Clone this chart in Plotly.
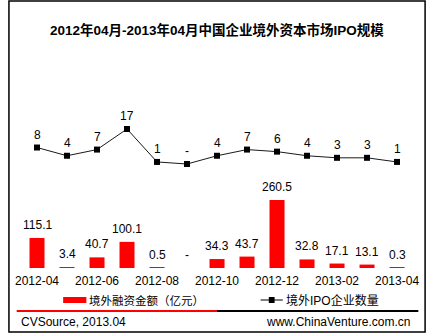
import plotly.graph_objects as go

# ---- data ----
months = ["2012-04", "2012-05", "2012-06", "2012-07", "2012-08", "2012-09", "2012-10",
          "2012-11", "2012-12", "2013-01", "2013-02", "2013-03", "2013-04"]
amount = [115.1, 3.4, 40.7, 100.1, 0.5, 0, 34.3, 43.7, 260.5, 32.8, 17.1, 13.1, 0.3]   # 境外融资金额（亿元）
ipo_count = [8, 4, 7, 17, 1, 0, 4, 7, 6, 4, 3, 3, 1]                                      # 境外IPO企业数量
tick_months = months[::2]

W, H = 435, 335
FONT = "Liberation Sans, Arial, Noto Sans CJK SC, sans-serif"


def px(x):
    return x / W


def py(y):
    return 1 - y / H


# plot area in pixels
X0, X1 = 15.5, 418.5
Y_TOP, Y_BOT = 100, 272
plot_h = Y_BOT - Y_TOP

# bar axis: baseline at y=268, 0.261 px per unit
bar_scale = 0.261
bar_min = -(Y_BOT - 268) / bar_scale
bar_max = bar_min + plot_h / bar_scale

# line axis: zero at y=164, 2.06 px per unit
line_scale = 2.06
line_min = -(Y_BOT - 164) / line_scale
line_max = line_min + plot_h / line_scale


def fmt(v):
    return "-" if v == 0 else (f"{v:g}")


fig = go.Figure()
fig.add_trace(go.Bar(
    x=months, y=amount, width=0.5, marker=dict(color="#ff0000", line=dict(width=0)),
    name="境外融资金额（亿元）", yaxis="y", showlegend=False, hoverinfo="x+y",
))
fig.add_trace(go.Scatter(
    x=months, y=ipo_count, mode="lines+markers", yaxis="y2",
    line=dict(color="#1a1a1a", width=1),
    marker=dict(symbol="square", size=6, color="#000000"),
    name="境外IPO企业数量", showlegend=False, cliponaxis=False,
))

annotations = []
for m, v in zip(months, amount):
    annotations.append(dict(x=m, y=v, xref="x", yref="y", text=fmt(v), showarrow=False,
                            yshift=13, font=dict(family=FONT, size=12, color="#000")))
for m, v in zip(months, ipo_count):
    annotations.append(dict(x=m, y=v, xref="x", yref="y2", text=fmt(v), showarrow=False,
                            yshift=13, font=dict(family=FONT, size=12, color="#000")))

# title
annotations.append(dict(x=px(217), y=py(30), xref="paper", yref="paper",
                        text="<b>2012年04月-2013年04月中国企业境外资本市场IPO规模</b>",
                        showarrow=False, xanchor="center", yanchor="middle",
                        font=dict(family=FONT, size=13.5, color="#000")))
# legend texts
annotations.append(dict(x=px(83), y=py(300), xref="paper", yref="paper", text="境外融资金额（亿元）",
                        showarrow=False, xanchor="left", yanchor="middle",
                        font=dict(family=FONT, size=11.5, color="#000")))
annotations.append(dict(x=px(286), y=py(300), xref="paper", yref="paper", text="境外IPO企业数量",
                        showarrow=False, xanchor="left", yanchor="middle",
                        font=dict(family=FONT, size=12, color="#000")))
# footer
annotations.append(dict(x=px(12), y=py(322), xref="paper", yref="paper", text="CVSource, 2013.04",
                        showarrow=False, xanchor="left", yanchor="middle",
                        font=dict(family=FONT, size=12, color="#000")))
annotations.append(dict(x=px(418), y=py(322), xref="paper", yref="paper", text="www.ChinaVenture.com.cn",
                        showarrow=False, xanchor="right", yanchor="middle",
                        font=dict(family=FONT, size=12, color="#000")))

shapes = [
    # outer frame
    dict(type="rect", xref="paper", yref="paper", x0=px(2), x1=px(432), y0=py(332), y1=py(1),
         line=dict(color="#000", width=1.5), fillcolor="rgba(0,0,0,0)"),
    # separator line
    dict(type="line", xref="paper", yref="paper", x0=px(10), x1=px(217), y0=py(311), y1=py(311),
         line=dict(color="#ff0000", width=2)),
    dict(type="line", xref="paper", yref="paper", x0=px(217), x1=px(425), y0=py(311), y1=py(311),
         line=dict(color="#000000", width=2)),
    # legend symbols
    dict(type="rect", xref="paper", yref="paper", x0=px(58), x1=px(82), y0=py(303), y1=py(297),
         line=dict(width=0), fillcolor="#ff0000"),
    dict(type="line", xref="paper", yref="paper", x0=px(262), x1=px(285), y0=py(300), y1=py(300),
         line=dict(color="#000", width=1)),
    dict(type="rect", xref="paper", yref="paper", x0=px(270.5), x1=px(276.5), y0=py(303), y1=py(297),
         line=dict(width=0), fillcolor="#000"),
]

fig.update_layout(
    width=W, height=H, margin=dict(l=0, r=0, t=0, b=0),
    paper_bgcolor="white", plot_bgcolor="white",
    showlegend=False, bargap=0.5,
    font=dict(family=FONT, size=12, color="#000"),
    xaxis=dict(domain=[px(X0), px(X1)], type="category", range=[-0.5, 12.5],
               tickmode="array", tickvals=tick_months, ticktext=tick_months,
               showgrid=False, zeroline=False, showline=False, ticks="",
               tickfont=dict(family=FONT, size=12, color="#000")),
    yaxis=dict(domain=[py(Y_BOT), py(Y_TOP)], range=[bar_min, bar_max], visible=False,
               showgrid=False, zeroline=False),
    yaxis2=dict(overlaying="y", range=[line_min, line_max], visible=False,
                showgrid=False, zeroline=False),
    annotations=annotations, shapes=shapes,
)

fig.write_html("out.html")
